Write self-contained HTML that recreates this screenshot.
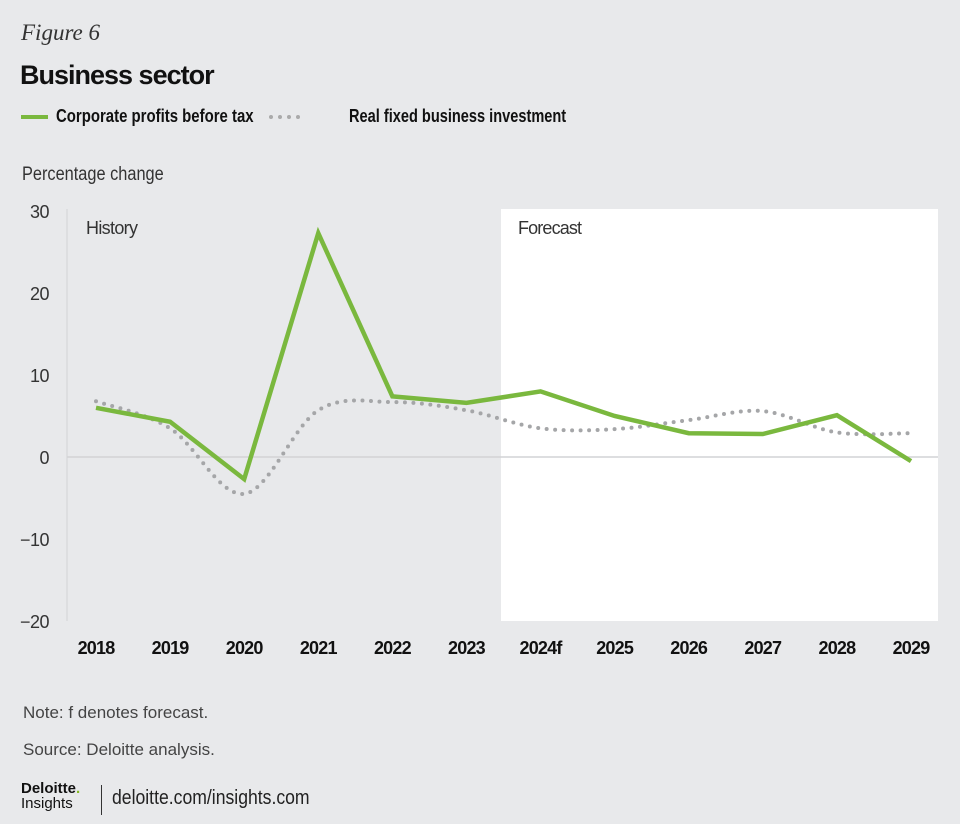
<!DOCTYPE html>
<html><head><meta charset="utf-8"><style>
body{margin:0;background:#e8e9eb;}
#root{position:relative;width:960px;height:824px;background:#e8e9eb;font-family:"Liberation Sans",sans-serif;color:#222;overflow:hidden}
.t{position:absolute;white-space:nowrap;transform-origin:0 0}
</style></head><body>
<div id="root">
<div class="t" style="left:21px;top:20px;font-family:'Liberation Serif',serif;font-style:italic;font-size:23px;color:#333">Figure 6</div>
<div class="t" style="left:20px;top:60px;font-weight:bold;font-size:27px;letter-spacing:-1px;color:#111">Business sector</div>
<div style="position:absolute;left:21px;top:115px;width:27px;height:4px;background:#7ab83e"></div>
<div class="t" style="left:56px;top:106px;font-weight:bold;font-size:18px;color:#111;transform:scaleX(0.83)">Corporate profits before tax</div>
<svg style="position:absolute;left:268px;top:112px" width="70" height="10"><circle cx="3" cy="5" r="2" fill="#aaa"/><circle cx="12" cy="5" r="2" fill="#aaa"/><circle cx="21" cy="5" r="2" fill="#aaa"/><circle cx="30" cy="5" r="2" fill="#aaa"/></svg>
<div class="t" style="left:349px;top:106px;font-weight:bold;font-size:18px;color:#111;transform:scaleX(0.81)">Real fixed business investment</div>
<div class="t" style="left:22px;top:164px;font-size:19px;color:#333;transform:scaleX(0.86)">Percentage change</div>
<svg id="chart" width="960" height="824" style="position:absolute;left:0;top:0"></svg>
<div class="t" style="left:23px;top:703px;font-size:17px;color:#444">Note: f denotes forecast.</div>
<div class="t" style="left:23px;top:740px;font-size:17px;color:#444">Source: Deloitte analysis.</div>
<div class="t" style="left:21px;top:781px;font-weight:bold;font-size:15px;color:#111;line-height:15px">Deloitte<span style="color:#86bc25">.</span><br><span style="font-weight:normal;font-size:15px">Insights</span></div>
<div style="position:absolute;left:101px;top:785px;width:1px;height:30px;background:#333"></div>
<div class="t" style="left:112px;top:787px;font-size:20px;color:#222;transform:scaleX(0.88)">deloitte.com/insights.com</div>
</div>
<script>
const categories=["2018","2019","2020","2021","2022","2023","2024f","2025","2026","2027","2028","2029"];
const profits=[6.0,4.3,-2.7,27.3,7.4,6.6,8.0,5.0,2.9,2.8,5.1,-0.5];
const investment=[6.8,3.5,-4.5,5.7,6.7,5.7,3.5,3.4,4.5,5.6,3.0,2.9];
const yTicks=[30,20,10,0,-10,-20];
const NS="http://www.w3.org/2000/svg";
const svg=document.getElementById('chart');
const x=i=>96+i*(911-96)/11;
const y=v=>457-v*8.2;
function mk(t,a){const e=document.createElementNS(NS,t);for(const k in a)e.setAttribute(k,a[k]);svg.appendChild(e);return e;}
let r=mk('rect',{x:501,y:209,width:437,height:412,fill:'#ffffff'});


let ax=mk('line',{x1:67,y1:209,x2:67,y2:621,stroke:'#d2d3d5','stroke-width':1});


let z=mk('line',{x1:67,y1:y(0),x2:938,y2:y(0),stroke:'#d2d3d5','stroke-width':1.5});


yTicks.forEach(v=>{let t=mk('text',{x:49,y:y(v)+7,'text-anchor':'end','font-size':18,fill:'#333','font-family':'Liberation Sans, sans-serif','letter-spacing':'-0.5'});t.textContent=v<0?'\u2212'+(-v):v;

});
categories.forEach((c,i)=>{let t=mk('text',{x:x(i),y:654,'text-anchor':'middle','font-size':18,'font-weight':'bold',fill:'#111','font-family':'Liberation Sans, sans-serif','letter-spacing':'-0.8'});t.textContent=c;

});
let h=mk('text',{x:86,y:234,'font-size':18,fill:'#333','font-family':'Liberation Sans, sans-serif','textLength':52});h.textContent='History';


let f=mk('text',{x:518,y:234,'font-size':18,fill:'#333','font-family':'Liberation Sans, sans-serif','textLength':64});f.textContent='Forecast';


const pts=investment.map((v,i)=>[x(i),y(v)]);
let d='M'+pts[0][0]+','+pts[0][1];
for(let i=0;i<pts.length-1;i++){const p0=pts[Math.max(0,i-1)],p1=pts[i],p2=pts[i+1],p3=pts[Math.min(pts.length-1,i+2)];
const c1=[p1[0]+(p2[0]-p0[0])/6,p1[1]+(p2[1]-p0[1])/6],c2=[p2[0]-(p3[0]-p1[0])/6,p2[1]-(p3[1]-p1[1])/6];
d+=' C'+c1.join(',')+' '+c2.join(',')+' '+p2.join(',');}
let inv=mk('path',{d:d,fill:'none',stroke:'#a5a6a8','stroke-width':4,'stroke-linecap':'round','stroke-dasharray':'0 8.5'});


let pr=mk('polyline',{points:profits.map((v,i)=>x(i)+','+y(v)).join(' '),fill:'none',stroke:'#7ab83e','stroke-width':4.5,'stroke-linejoin':'miter'});


</script>
</body></html>
